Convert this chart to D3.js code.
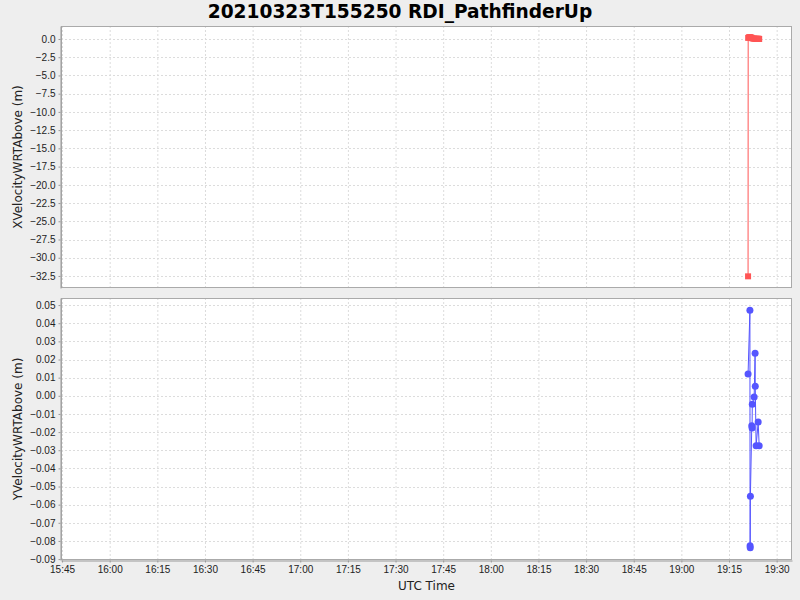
<!DOCTYPE html>
<html>
<head>
<meta charset="utf-8">
<script src="https://cdn.jsdelivr.net/npm/d3@7"></script>
<style>
  html, body { margin: 0; padding: 0; background: #eeeeee; }
  svg { display: block; font-family: "DejaVu Sans", sans-serif; }
</style>
</head>
<body>
<div id="chart"></div>
<script>
const width = 800;
const height = 600;

// sample times (UTC, 2021-03-23)
const xTimes = ["19:21:00", "19:21:02", "19:21:20", "19:21:40", "19:22:00", "19:22:20", "19:22:40",
  "19:23:00", "19:23:20", "19:23:40", "19:24:00", "19:24:15", "19:24:30"];
const xVelocity = [-32.55, 0.15, 0.25, 0.25, 0.2, 0.1, 0.05, 0.05, 0.0, 0.05, 0.0, 0.05, 0.0];

const yTimes = ["19:21:00", "19:21:35", "19:21:38", "19:21:41", "19:21:44", "19:22:10", "19:22:16",
  "19:22:20", "19:22:55", "19:23:13", "19:23:16", "19:23:32", "19:24:11", "19:24:30"];
const yVelocity = [0.012, 0.0472, -0.0826, -0.0837, -0.0553, -0.0165, -0.0177, -0.0046, -0.0007,
  0.0234, 0.0053, -0.0276, -0.0145, -0.0276];

const timeDomain = ["15:44:40", "19:34:50"];
const xVelDomain = [-34.15, 1.78];
const yVelDomain = [-0.0905, 0.0539];
const xVelTicks = d3.range(0, 14).map(i => -2.5 * i);
const yVelTicks = d3.range(0, 15).map(i => +(0.05 - 0.01 * i).toFixed(2));

const parse = s => d3.utcParse("%Y-%m-%d %H:%M:%S")("2021-03-23 " + s);

const svg = d3.select("#chart")
  .append("svg")
  .attr("width", width)
  .attr("height", height);

svg.append("rect").attr("width", width).attr("height", height).attr("fill", "#eeeeee");

const left = 61, right = 792;
const panels = [
  { top: 26, bottom: 288, times: xTimes, values: xVelocity, domain: xVelDomain, ticks: xVelTicks,
    fmt: d3.format(".1f"), color: "#ff5555", label: "XVelocityWRTAbove (m)", marker: "square" },
  { top: 298, bottom: 560, times: yTimes, values: yVelocity, domain: yVelDomain, ticks: yVelTicks,
    fmt: d3.format(".2f"), color: "#5555ff", label: "YVelocityWRTAbove (m)", marker: "circle" }
];

const x = d3.scaleUtc()
  .domain(timeDomain.map(parse))
  .range([left, right]);
const timeTicks = d3.utcMinute.every(15).range(parse("15:45:00"), parse("19:31:00"));

svg.append("text")
  .attr("x", width / 2)
  .attr("y", 18)
  .attr("text-anchor", "middle")
  .style("font-size", "18.6px")
  .style("font-weight", "bold")
  .text("20210323T155250 RDI_PathfinderUp");

panels.forEach((p, idx) => {
  const y = d3.scaleLinear().domain(p.domain).range([p.bottom, p.top]);
  const g = svg.append("g");

  g.append("rect")
    .attr("x", left).attr("y", p.top)
    .attr("width", right - left).attr("height", p.bottom - p.top)
    .attr("fill", "#ffffff");

  // grid
  g.append("g")
    .selectAll("line")
    .data(timeTicks)
    .join("line")
    .attr("x1", d => x(d) + 0.5).attr("x2", d => x(d) + 0.5)
    .attr("y1", p.top).attr("y2", p.bottom)
    .attr("stroke", "#dcdcdc")
    .attr("stroke-dasharray", "2,2");

  g.append("g")
    .selectAll("line")
    .data(p.ticks)
    .join("line")
    .attr("x1", left).attr("x2", right)
    .attr("y1", d => Math.round(y(d)) + 0.5).attr("y2", d => Math.round(y(d)) + 0.5)
    .attr("stroke", "#dcdcdc")
    .attr("stroke-dasharray", "2,2");

  g.append("rect")
    .attr("x", left + 0.5).attr("y", p.top + 0.5)
    .attr("width", right - left - 1).attr("height", p.bottom - p.top - 1)
    .attr("fill", "none")
    .attr("stroke", "#aaaaaa");

  // y axis
  const yAxis = g.append("g")
    .attr("transform", `translate(${left - 0.5},0)`)
    .call(d3.axisLeft(y).tickValues(p.ticks).tickFormat(p.fmt).tickSize(2).tickSizeOuter(0).tickPadding(3));
  yAxis.select(".domain").attr("stroke", "#999999");
  yAxis.selectAll(".tick line").attr("stroke", "#999999");
  yAxis.selectAll("text").style("font-size", "10px").attr("fill", "#222");

  g.append("text")
    .attr("transform", `translate(22,${(p.top + p.bottom) / 2}) rotate(-90)`)
    .attr("text-anchor", "middle")
    .style("font-size", "12px")
    .attr("fill", "#222")
    .text(p.label);

  // series
  const pts = p.times.map((t, i) => ({ t: parse(t), v: p.values[i] }));
  g.append("path")
    .datum(pts)
    .attr("fill", "none")
    .attr("stroke", p.color)
    .attr("stroke-width", 1)
    .attr("d", d3.line().x(d => x(d.t)).y(d => y(d.v)));

  if (p.marker === "square") {
    g.append("g")
      .selectAll("rect")
      .data(pts)
      .join("rect")
      .attr("x", d => x(d.t) - 3).attr("y", d => y(d.v) - 3)
      .attr("width", 6).attr("height", 6)
      .attr("fill", p.color);
  } else {
    g.append("g")
      .selectAll("circle")
      .data(pts)
      .join("circle")
      .attr("cx", d => x(d.t)).attr("cy", d => y(d.v))
      .attr("r", 3.5)
      .attr("fill", p.color);
  }

  if (idx === 1) {
    const xAxis = g.append("g")
      .attr("transform", `translate(0,${p.bottom + 0.5})`)
      .call(d3.axisBottom(x).tickValues(timeTicks).tickFormat(d3.utcFormat("%H:%M")).tickSize(2).tickSizeOuter(0).tickPadding(3));
    xAxis.select(".domain").attr("stroke", "#999999");
    xAxis.selectAll(".tick line").attr("stroke", "#999999");
    xAxis.selectAll("text").style("font-size", "10px").attr("fill", "#222");

    svg.append("text")
      .attr("x", (left + right) / 2)
      .attr("y", 590)
      .attr("text-anchor", "middle")
      .style("font-size", "12px")
      .attr("fill", "#222")
      .text("UTC Time");
  }
});
</script>
</body>
</html>
